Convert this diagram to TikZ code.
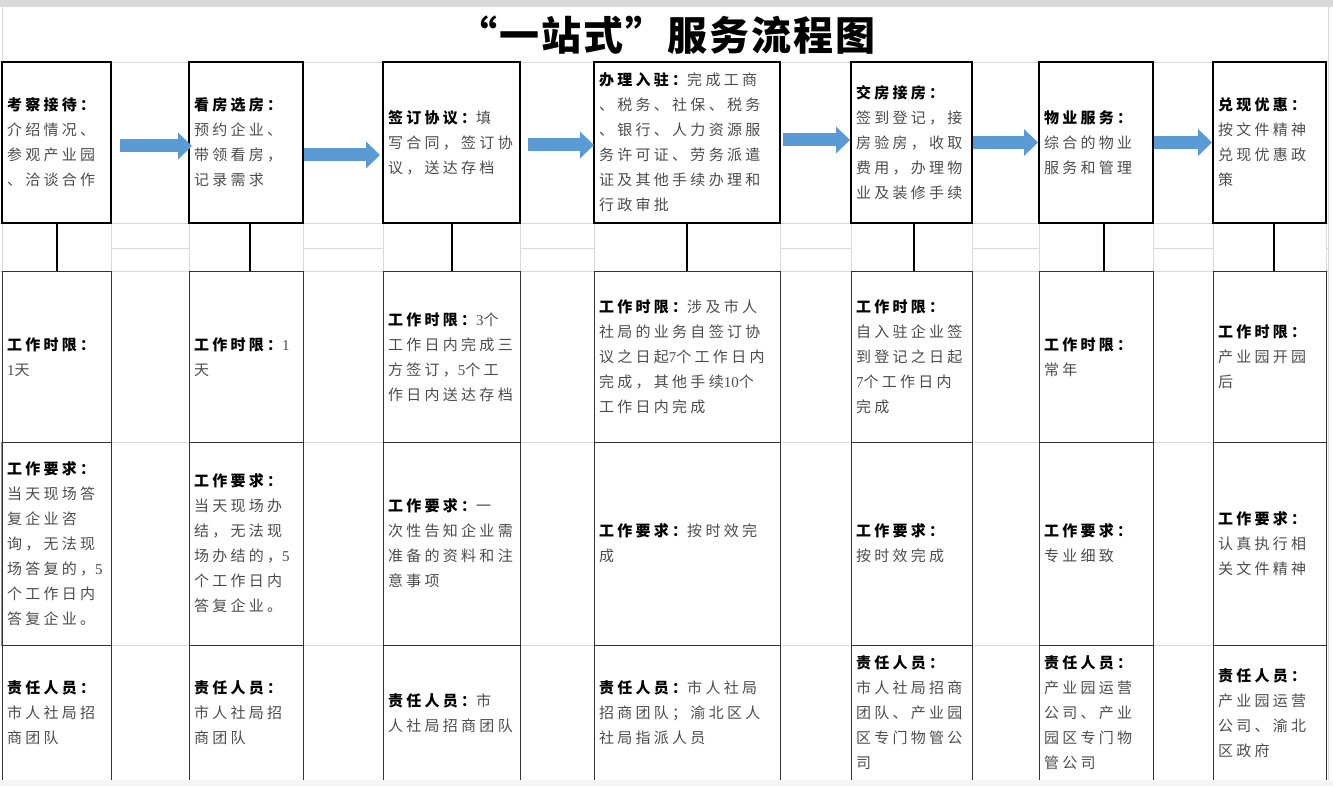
\documentclass[tikz,border=0pt]{standalone}
\usepackage{fontspec}
\setmainfont{Liberation Serif}
\newfontfamily\cjk[LetterSpace=22]{Noto Sans CJK SC}
\newfontfamily\titlefont[LetterSpace=5]{Noto Sans CJK SC}
\usetikzlibrary{arrows.meta}
\definecolor{flowblue}{HTML}{5B9BD5}
\definecolor{gridgray}{HTML}{D9D9D9}
\definecolor{selgreen}{HTML}{70AD47}
\newcommand\cellhead[1]{{\color{black}\bfseries #1}}
\newcommand\dgt[1]{{\rmfamily #1}}

\begin{document}
\begin{tikzpicture}[x=1pt, y=-1pt,
    grid/.style={gridgray, line width=1pt},
    card/.style={draw, line width=2pt, inner xsep=5pt, inner ysep=0pt, minimum height=161pt,
      align=left, text=black!70, font=\cjk\fontsize{15}{25}\selectfont},
    cell/.style={draw=black!80, line width=1pt, inner xsep=5pt, inner ysep=0pt,
      align=left, text=black!70, font=\cjk\fontsize{15}{25}\selectfont},
    limit/.style={cell, minimum height=170pt},
    need/.style={cell, minimum height=203pt},
    staff/.style={cell, minimum height=136pt},
    link/.style={line width=2pt},
    flow/.style={flowblue, line width=13pt, -{Triangle[length=14pt, width=27pt, line width=0pt]}}]
  \useasboundingbox (0,0) rectangle (1333,786);
  \fill[gray!30] (0,0) rectangle (1333,7);
  % sheet grid
  \draw[grid] (0,63) -- (1328,63);
  \draw[grid] (0,224) -- (1328,224);
  \draw[grid] (0,272) -- (1328,272);
  \draw[grid] (0,442) -- (1328,442);
  \draw[grid] (0,645) -- (1328,645);
  \draw[grid] (111,249) -- (189,249);
  \draw[grid] (303,249) -- (383,249);
  \draw[grid] (520,249) -- (594,249);
  \draw[grid] (780,249) -- (851,249);
  \draw[grid] (972,249) -- (1039,249);
  \draw[grid] (1153,249) -- (1213,249);
  \draw[grid] (1326,249) -- (1328,249);
  \draw[grid] (2,7) -- (2,786);
  \draw[grid] (111,224) -- (111,272);
  \draw[grid] (189,224) -- (189,272);
  \draw[grid] (303,224) -- (303,272);
  \draw[grid] (383,224) -- (383,272);
  \draw[grid] (520,224) -- (520,272);
  \draw[grid] (594,224) -- (594,272);
  \draw[grid] (780,224) -- (780,272);
  \draw[grid] (851,224) -- (851,272);
  \draw[grid] (972,224) -- (972,272);
  \draw[grid] (1039,224) -- (1039,272);
  \draw[grid] (1153,224) -- (1153,272);
  \draw[grid] (1213,224) -- (1213,272);
  \draw[grid] (1326,224) -- (1326,272);
  \draw[grid] (1328,7) -- (1328,786);

  \node[font=\titlefont\bfseries\fontsize{40}{44}\selectfont] (title) at (666,35) {“一站式”服务流程图};

  % steps
  \node[card, text width=99pt] (b1) at (56.5,142.5) {\cellhead{考察接待：}\\介绍情况、\\参观产业园\\、洽谈合作};
  \node[card, text width=104pt] (b2) at (246,142.5) {\cellhead{看房选房：}\\预约企业、\\带领看房，\\记录需求};
  \node[card, text width=127pt] (b3) at (451.5,142.5) {\cellhead{签订协议：}填\\写合同，签订协\\议，送达存档};
  \node[card, text width=176pt] (b4) at (687,142.5) {\cellhead{办理入驻：}完成工商\\、税务、社保、税务\\、银行、人力资源服\\务许可证、劳务派遣\\证及其他手续办理和\\行政审批};
  \node[card, text width=111pt] (b5) at (911.5,142.5) {\cellhead{交房接房：}\\签到登记，接\\房验房，收取\\费用，办理物\\业及装修手续};
  \node[card, text width=104pt] (b6) at (1096,142.5) {\cellhead{物业服务：}\\综合的物业\\服务和管理};
  \node[card, text width=103pt] (b7) at (1269.5,142.5) {\cellhead{兑现优惠：}\\按文件精神\\兑现优惠政\\策};

  % time limits
  \node[limit, text width=99pt] (t1) at (56.5,357) {\cellhead{工作时限：}\\\dgt{1}天};
  \node[limit, text width=104pt] (t2) at (246,357) {\cellhead{工作时限：}\dgt{1}\\天};
  \node[limit, text width=127pt] (t3) at (451.5,357) {\cellhead{工作时限：}\dgt{3}个\\工作日内完成三\\方签订，\dgt{5}个工\\作日内送达存档};
  \node[limit, text width=176pt] (t4) at (687,357) {\cellhead{工作时限：}涉及市人\\社局的业务自签订协\\议之日起\dgt{7}个工作日内\\完成，其他手续\dgt{10}个\\工作日内完成};
  \node[limit, text width=111pt] (t5) at (911.5,357) {\cellhead{工作时限：}\\自入驻企业签\\到登记之日起\\\dgt{7}个工作日内\\完成};
  \node[limit, text width=104pt] (t6) at (1096,357) {\cellhead{工作时限：}\\常年};
  \node[limit, text width=103pt] (t7) at (1269.5,357) {\cellhead{工作时限：}\\产业园开园\\后};

  % requirements
  \node[need, text width=99pt] (r1) at (56.5,543.5) {\cellhead{工作要求：}\\当天现场答\\复企业咨\\询，无法现\\场答复的，\dgt{5}\\个工作日内\\答复企业。};
  \node[need, text width=104pt] (r2) at (246,543.5) {\cellhead{工作要求：}\\当天现场办\\结，无法现\\场办结的，\dgt{5}\\个工作日内\\答复企业。};
  \node[need, text width=127pt] (r3) at (451.5,543.5) {\cellhead{工作要求：}一\\次性告知企业需\\准备的资料和注\\意事项};
  \node[need, text width=176pt] (r4) at (687,543.5) {\cellhead{工作要求：}按时效完\\成};
  \node[need, text width=111pt] (r5) at (911.5,543.5) {\cellhead{工作要求：}\\按时效完成};
  \node[need, text width=104pt] (r6) at (1096,543.5) {\cellhead{工作要求：}\\专业细致};
  \node[need, text width=103pt] (r7) at (1269.5,543.5) {\cellhead{工作要求：}\\认真执行相\\关文件精神};
  \draw[selgreen, line width=1.5pt] (r1.north west) -- (r1.south west);

  % staff
  \node[staff, text width=99pt] (p1) at (56.5,713) {\cellhead{责任人员：}\\市人社局招\\商团队};
  \node[staff, text width=104pt] (p2) at (246,713) {\cellhead{责任人员：}\\市人社局招\\商团队};
  \node[staff, text width=127pt] (p3) at (451.5,713) {\cellhead{责任人员：}市\\人社局招商团队};
  \node[staff, text width=176pt] (p4) at (687,713) {\cellhead{责任人员：}市人社局\\招商团队；渝北区人\\社局指派人员};
  \node[staff, text width=111pt] (p5) at (911.5,713) {\cellhead{责任人员：}\\市人社局招商\\团队、产业园\\区专门物管公\\司};
  \node[staff, text width=104pt] (p6) at (1096,713) {\cellhead{责任人员：}\\产业园运营\\公司、产业\\园区专门物\\管公司};
  \node[staff, text width=103pt] (p7) at (1269.5,713) {\cellhead{责任人员：}\\产业园运营\\公司、渝北\\区政府};

  % links down to the table
  \draw[link] (b1.south) -- (t1.north);
  \draw[link] ([xshift=4pt]b2.south) -- ([xshift=4pt]t2.north);
  \draw[link] (b3.south) -- (t3.north);
  \draw[link] (b4.south) -- (t4.north);
  \draw[link] ([xshift=2pt]b5.south) -- ([xshift=2pt]t5.north);
  \draw[link] ([xshift=8pt]b6.south) -- ([xshift=8pt]t6.north);
  \draw[link] ([xshift=4.5pt]b7.south) -- ([xshift=4.5pt]t7.north);

  % flow arrows
  \draw[flow] ([xshift=8pt,yshift=-3.5pt]b1.east) -- ([xshift=4pt,yshift=-3.5pt]b2.west);
  \draw[flow] ([yshift=-12.5pt]b2.east) -- ([xshift=-2pt,yshift=-12.5pt]b3.west);
  \draw[flow] ([xshift=7pt,yshift=-2.5pt]b3.east) -- ([xshift=1pt,yshift=-2.5pt]b4.west);
  \draw[flow] ([xshift=2pt,yshift=2.5pt]b4.east) -- ([yshift=2.5pt]b5.west);
  \draw[flow] (b5.east) -- (b6.west);
  \draw[flow] (b6.east) -- (b7.west);

  \fill[gray!8] (0,779.5) rectangle (1333,786);
\end{tikzpicture}
\end{document}
